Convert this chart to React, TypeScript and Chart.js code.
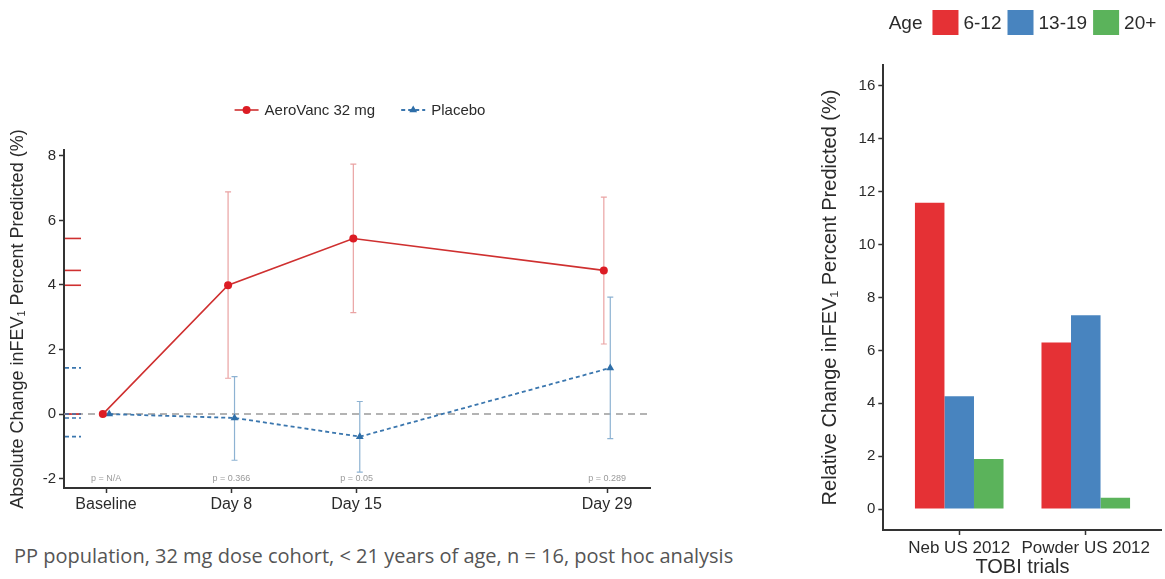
import React, { useEffect, useRef } from 'react';
import { Chart, registerables } from 'chart.js';

Chart.register(...registerables);

// ---------- Left chart data ----------
const DAYS = [1, 8, 15, 29];
const DAY_LABELS = ['Baseline', 'Day 8', 'Day 15', 'Day 29'];
const AEROVANC_MEAN = [0, 3.99, 5.44, 4.45];
const AEROVANC_LOW = [0, 1.11, 3.14, 2.17];
const AEROVANC_HIGH = [0, 6.88, 7.74, 6.72];
const PLACEBO_MEAN = [0, -0.12, -0.7, 1.43];
const PLACEBO_LOW = [0, -1.43, -1.8, -0.76];
const PLACEBO_HIGH = [0, 1.16, 0.39, 3.62];
const P_VALUES = ['p = N/A', 'p = 0.366', 'p = 0.05', 'p = 0.289'];
const P_LABEL_Y = -2;
const REFERENCE_Y = 0;
const LEFT_Y_TICKS = [-2, 0, 2, 4, 6, 8];
const DODGE = 0.18;

// ---------- Right chart data ----------
const TRIALS = ['Neb US 2012', 'Powder US 2012'];
const AGE_GROUPS = ['6-12', '13-19', '20+'];
const AGE_6_12 = [11.58, 6.3];
const AGE_13_19 = [4.27, 7.33];
const AGE_20_PLUS = [1.89, 0.43];
const RIGHT_Y_TICKS = [0, 2, 4, 6, 8, 10, 12, 14, 16];

const CAPTION = 'PP population, 32 mg dose cohort, < 21 years of age, n = 16, post hoc analysis';

const FONT = '"Liberation Sans", Arial, Helvetica, sans-serif';
const AXIS_COLOR = '#333333';
const TEXT_COLOR = '#2b2b2b';

function drawMarker(ctx: CanvasRenderingContext2D, style: string, x: number, y: number, r: number, color: string) {
  ctx.save();
  ctx.fillStyle = color;
  ctx.beginPath();
  if (style === 'triangle') {
    let rad = 0;
    ctx.moveTo(x + Math.sin(rad) * r, y - Math.cos(rad) * r);
    rad += (2 * Math.PI) / 3;
    ctx.lineTo(x + Math.sin(rad) * r, y - Math.cos(rad) * r);
    rad += (2 * Math.PI) / 3;
    ctx.lineTo(x + Math.sin(rad) * r, y - Math.cos(rad) * r);
    ctx.closePath();
  } else {
    ctx.arc(x, y, r, 0, Math.PI * 2);
  }
  ctx.fill();
  ctx.restore();
}

const zeroLinePlugin = {
  id: 'zeroLine',
  beforeDatasetsDraw(chart: any) {
    const { ctx, chartArea } = chart;
    const y = chart.scales.y.getPixelForValue(REFERENCE_Y);
    ctx.save();
    ctx.strokeStyle = '#9a9a9a';
    ctx.lineWidth = 1.5;
    ctx.setLineDash([7, 5]);
    ctx.beginPath();
    ctx.moveTo(chartArea.left, y);
    ctx.lineTo(chartArea.right, y);
    ctx.stroke();
    ctx.restore();
  },
};

const errorBarPlugin = {
  id: 'errorBars',
  beforeDatasetsDraw(chart: any) {
    const { ctx } = chart;
    const yScale = chart.scales.y;
    chart.data.datasets.forEach((ds: any, di: number) => {
      const meta = chart.getDatasetMeta(di);
      ctx.save();
      ctx.strokeStyle = ds.errorColor;
      ctx.lineWidth = 1.2;
      meta.data.forEach((pt: any, i: number) => {
        const lo = ds.errorLow[i];
        const hi = ds.errorHigh[i];
        if (lo === hi) return;
        const x = pt.x;
        const y1 = yScale.getPixelForValue(lo);
        const y2 = yScale.getPixelForValue(hi);
        ctx.beginPath();
        ctx.moveTo(x, y1);
        ctx.lineTo(x, y2);
        ctx.moveTo(x - 3, y1);
        ctx.lineTo(x + 3, y1);
        ctx.moveTo(x - 3, y2);
        ctx.lineTo(x + 3, y2);
        ctx.stroke();
      });
      ctx.restore();
    });
  },
};

const rugPlugin = {
  id: 'rug',
  afterDatasetsDraw(chart: any) {
    const { ctx, chartArea } = chart;
    const yScale = chart.scales.y;
    chart.data.datasets.forEach((ds: any) => {
      ctx.save();
      ctx.strokeStyle = ds.borderColor;
      ctx.lineWidth = 1.6;
      ctx.setLineDash(ds.borderDash || []);
      ds.data.forEach((p: any) => {
        const y = yScale.getPixelForValue(p.y);
        ctx.beginPath();
        ctx.moveTo(chartArea.left + 1, y);
        ctx.lineTo(chartArea.left + 17, y);
        ctx.stroke();
      });
      ctx.restore();
    });
  },
};

const pValuePlugin = {
  id: 'pValues',
  afterDatasetsDraw(chart: any) {
    const { ctx } = chart;
    const xScale = chart.scales.x;
    const yScale = chart.scales.y;
    ctx.save();
    ctx.font = `9px ${FONT}`;
    ctx.fillStyle = '#9a9a9a';
    ctx.textAlign = 'center';
    ctx.textBaseline = 'middle';
    DAYS.forEach((d, i) => {
      ctx.fillText(P_VALUES[i], xScale.getPixelForValue(d), yScale.getPixelForValue(P_LABEL_Y));
    });
    ctx.restore();
  },
};

const leftLegendPlugin = {
  id: 'leftLegend',
  afterDraw(chart: any) {
    const { ctx, chartArea } = chart;
    const KEY = 24;
    const GAP = 6;
    const ITEM_GAP = 26;
    ctx.save();
    ctx.font = `15px ${FONT}`;
    const items = chart.data.datasets.map((ds: any) => ({ ds, w: ctx.measureText(ds.label).width }));
    const total = items.reduce((s: number, it: any, i: number) => s + KEY + GAP + it.w + (i ? ITEM_GAP : 0), 0);
    let x = (chartArea.left + chartArea.right) / 2 + 3 - total / 2;
    const y = 110;
    items.forEach((it: any, i: number) => {
      if (i) x += ITEM_GAP;
      const ds = it.ds;
      ctx.save();
      ctx.strokeStyle = ds.borderColor;
      ctx.lineWidth = ds.borderWidth;
      ctx.setLineDash(ds.borderDash || []);
      ctx.beginPath();
      ctx.moveTo(x, y);
      ctx.lineTo(x + KEY, y);
      ctx.stroke();
      ctx.restore();
      drawMarker(ctx, ds.pointStyle, x + KEY / 2, y, ds.pointRadius, ds.pointBackgroundColor);
      ctx.fillStyle = TEXT_COLOR;
      ctx.textAlign = 'left';
      ctx.textBaseline = 'middle';
      ctx.fillText(ds.label, x + KEY + GAP, y + 1);
      x += KEY + GAP + it.w;
    });
    ctx.restore();
  },
};

const rightLegendPlugin = {
  id: 'rightLegend',
  afterDraw(chart: any) {
    const { ctx, chartArea } = chart;
    const BOX_W = 26;
    const BOX_H = 25;
    const TITLE_GAP = 10;
    const GAP = 5;
    const ITEM_GAP = 6;
    const title = 'Age';
    ctx.save();
    ctx.font = `19px ${FONT}`;
    const tw = ctx.measureText(title).width;
    const items = chart.data.datasets.map((ds: any) => ({ ds, w: ctx.measureText(ds.label).width }));
    const total = tw + TITLE_GAP + items.reduce((s: number, it: any, i: number) => s + BOX_W + GAP + it.w + (i ? ITEM_GAP : 0), 0);
    let x = (chartArea.left + chartArea.right) / 2 - total / 2;
    const y = 22.5;
    ctx.fillStyle = TEXT_COLOR;
    ctx.textAlign = 'left';
    ctx.textBaseline = 'middle';
    ctx.fillText(title, x, y + 1);
    x += tw + TITLE_GAP;
    items.forEach((it: any, i: number) => {
      if (i) x += ITEM_GAP;
      ctx.fillStyle = it.ds.backgroundColor;
      ctx.fillRect(x, y - BOX_H / 2, BOX_W, BOX_H);
      ctx.fillStyle = TEXT_COLOR;
      ctx.fillText(it.ds.label, x + BOX_W + GAP, y + 1);
      x += BOX_W + GAP + it.w;
    });
    ctx.restore();
  },
};

function axisGrid() {
  return {
    display: true,
    drawOnChartArea: false,
    drawTicks: true,
    tickLength: 5,
    tickWidth: 1.5,
    tickColor: AXIS_COLOR,
    color: AXIS_COLOR,
    offset: false,
  };
}

function leftConfig(): any {
  return {
    type: 'line',
    data: {
      datasets: [
        {
          label: 'AeroVanc 32 mg',
          data: DAYS.map((d, i) => ({ x: d - DODGE, y: AEROVANC_MEAN[i] })),
          errorLow: AEROVANC_LOW,
          errorHigh: AEROVANC_HIGH,
          errorColor: '#eaa3a3',
          borderColor: '#cf3030',
          borderWidth: 1.6,
          pointStyle: 'circle',
          pointRadius: 4,
          pointBackgroundColor: '#dc1c24',
          pointBorderColor: '#dc1c24',
          pointBorderWidth: 0,
          tension: 0,
          fill: false,
        },
        {
          label: 'Placebo',
          data: DAYS.map((d, i) => ({ x: d + DODGE, y: PLACEBO_MEAN[i] })),
          errorLow: PLACEBO_LOW,
          errorHigh: PLACEBO_HIGH,
          errorColor: '#8db2d2',
          borderColor: '#3a76ae',
          borderWidth: 1.8,
          borderDash: [4, 3],
          pointStyle: 'triangle',
          pointRadius: 4.5,
          pointBackgroundColor: '#2e6ea8',
          pointBorderColor: '#2e6ea8',
          pointBorderWidth: 0,
          tension: 0,
          fill: false,
        },
      ],
    },
    options: {
      animation: false,
      responsive: false,
      maintainAspectRatio: false,
      layout: { padding: { top: 150, right: 15, bottom: 12, left: 0 } },
      plugins: { legend: { display: false }, tooltip: { enabled: false } },
      scales: {
        x: {
          type: 'linear',
          min: -1.35,
          max: 31.4,
          offset: false,
          afterBuildTicks: (s: any) => {
            s.ticks = DAYS.map((v) => ({ value: v }));
          },
          afterFit: (s: any) => {
            s.height = 30;
          },
          ticks: {
            autoSkip: false,
            maxRotation: 0,
            padding: 2,
            color: TEXT_COLOR,
            font: { family: FONT, size: 16 },
            callback: (_v: any, i: number) => DAY_LABELS[i],
          },
          grid: axisGrid(),
          border: { display: true, color: AXIS_COLOR, width: 2 },
        },
        y: {
          type: 'linear',
          min: -2.29,
          max: 8.18,
          afterBuildTicks: (s: any) => {
            s.ticks = LEFT_Y_TICKS.map((v) => ({ value: v }));
          },
          afterFit: (s: any) => {
            s.width = 64;
          },
          ticks: {
            padding: 3,
            color: TEXT_COLOR,
            font: { family: FONT, size: 15 },
          },
          grid: axisGrid(),
          border: { display: true, color: AXIS_COLOR, width: 2 },
          title: {
            display: true,
            text: 'Absolute Change inFEV\u2081 Percent Predicted (%)',
            color: TEXT_COLOR,
            font: { family: FONT, size: 18 },
            padding: { top: 7, bottom: 0 },
          },
        },
      },
    },
    plugins: [zeroLinePlugin, errorBarPlugin, rugPlugin, pValuePlugin, leftLegendPlugin],
  };
}

function rightConfig(): any {
  const values = [AGE_6_12, AGE_13_19, AGE_20_PLUS];
  const colors = ['#e53135', '#4884bf', '#5bb35b'];
  return {
    type: 'bar',
    data: {
      datasets: AGE_GROUPS.map((g, k) => ({
        label: g,
        data: TRIALS.map((_t, i) => ({ x: i + 1, y: values[k][i] })),
        backgroundColor: colors[k],
        borderWidth: 0,
        categoryPercentage: 0.7,
        barPercentage: 1.0,
      })),
    },
    options: {
      animation: false,
      responsive: false,
      maintainAspectRatio: false,
      layout: { padding: { top: 65, right: 3.3, bottom: 0, left: 0 } },
      plugins: { legend: { display: false }, tooltip: { enabled: false } },
      scales: {
        x: {
          type: 'linear',
          min: 0.4,
          max: 2.6,
          offset: false,
          afterBuildTicks: (s: any) => {
            s.ticks = TRIALS.map((_t, i) => ({ value: i + 1 }));
          },
          afterFit: (s: any) => {
            s.height = 49;
          },
          ticks: {
            autoSkip: false,
            maxRotation: 0,
            padding: 3,
            color: TEXT_COLOR,
            font: { family: FONT, size: 17 },
            callback: (_v: any, i: number) => TRIALS[i],
          },
          grid: axisGrid(),
          border: { display: true, color: AXIS_COLOR, width: 2 },
          title: {
            display: true,
            text: 'TOBI trials',
            color: TEXT_COLOR,
            font: { family: FONT, size: 20 },
            padding: { top: 0, bottom: 0 },
          },
        },
        y: {
          type: 'linear',
          min: -0.79,
          max: 16.79,
          afterBuildTicks: (s: any) => {
            s.ticks = RIGHT_Y_TICKS.map((v) => ({ value: v }));
          },
          afterFit: (s: any) => {
            s.width = 93.3;
          },
          ticks: {
            padding: 3,
            color: TEXT_COLOR,
            font: { family: FONT, size: 15 },
          },
          grid: axisGrid(),
          border: { display: true, color: AXIS_COLOR, width: 2 },
          title: {
            display: true,
            text: 'Relative Change inFEV\u2081 Percent Predicted (%)',
            color: TEXT_COLOR,
            font: { family: FONT, size: 20 },
            padding: { top: 28, bottom: 0 },
          },
        },
      },
    },
    plugins: [rightLegendPlugin],
  };
}

export default function App() {
  const leftRef = useRef<HTMLCanvasElement>(null);
  const rightRef = useRef<HTMLCanvasElement>(null);

  useEffect(() => {
    const c1 = new Chart(leftRef.current as HTMLCanvasElement, leftConfig());
    const c2 = new Chart(rightRef.current as HTMLCanvasElement, rightConfig());
    return () => {
      c1.destroy();
      c2.destroy();
    };
  }, []);

  return (
    <div style={{ position: 'absolute', left: 0, top: 0, width: 1165, height: 579, background: '#ffffff', overflow: 'hidden' }}>
      <canvas ref={leftRef} width={665} height={530} style={{ position: 'absolute', left: 0, top: 0, width: 665, height: 530 }} />
      <canvas ref={rightRef} width={375} height={579} style={{ position: 'absolute', left: 790, top: 0, width: 375, height: 579 }} />
      <div
        style={{
          position: 'absolute',
          left: 14,
          top: 542,
          fontFamily: '"Open Sans", sans-serif',
          fontSize: 20,
          color: '#555555',
          whiteSpace: 'nowrap',
          lineHeight: '27px',
        }}
      >
        {CAPTION}
      </div>
    </div>
  );
}
